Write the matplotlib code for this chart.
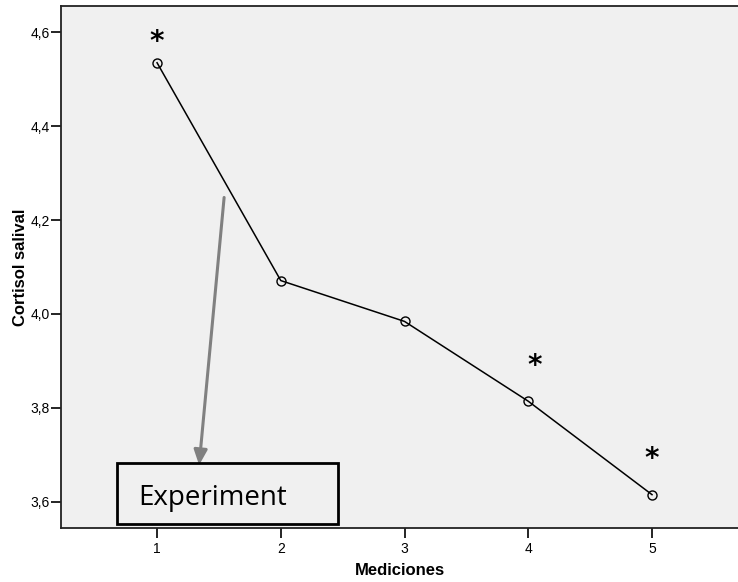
import matplotlib.pyplot as plt
from matplotlib.patches import Rectangle
from matplotlib.ticker import FuncFormatter

# data
mediciones = [1, 2, 3, 4, 5]
cortisol = [4.535, 4.071, 3.984, 3.814, 3.615]

# significance marks (x, y)
star_x = [1, 4.05, 5]
star_y = [4.58, 3.889, 3.691]

y_ticks = [3.6, 3.8, 4.0, 4.2, 4.4, 4.6]

plt.rcParams["font.family"] = ["Liberation Sans", "DejaVu Sans"]

fig = plt.figure(figsize=(7.38, 5.82), dpi=100)
ax = fig.add_axes([0.0827, 0.0928, 0.9173, 0.897])
ax.set_facecolor("#f0f0f0")

ax.plot(mediciones, cortisol, color="black", linewidth=1.1,
        marker="o", markersize=6.5, markerfacecolor="none",
        markeredgecolor="black", markeredgewidth=1)

for sx, sy in zip(star_x, star_y):
    ax.text(sx, sy, "*", ha="center", va="center", fontsize=20,
            fontweight="bold", fontfamily="DejaVu Sans")

ax.set_xlim(0.224, 5.695)
ax.set_ylim(3.544, 4.656)
ax.set_xticks(mediciones)
ax.set_yticks(y_ticks)
ax.yaxis.set_major_formatter(FuncFormatter(lambda v, p: f"{v:.1f}".replace(".", ",")))
ax.tick_params(direction="out", length=7, width=1.2, labelsize=10, colors="black")
ax.tick_params(axis="y", pad=1)
ax.tick_params(axis="x", pad=3)

for side in ["left", "bottom", "top"]:
    ax.spines[side].set_linewidth(1.3)
    ax.spines[side].set_color("#222222")
ax.spines["right"].set_visible(False)

ax.set_xlabel("Mediciones", fontsize=12, fontweight="bold", labelpad=5)
ax.set_ylabel("Cortisol salival", fontsize=12, fontweight="bold", labelpad=2)

# annotation box and arrow
ax.annotate("", xy=(1.340, 3.678), xytext=(1.542, 4.248),
            arrowprops=dict(arrowstyle="-|>,head_length=0.9,head_width=0.4",
                            color="#808080", lw=2.2, shrinkA=0, shrinkB=0))
ax.add_patch(Rectangle((0.677, 3.552), 2.463 - 0.677, 3.682 - 3.552,
                       facecolor="none", edgecolor="black", linewidth=2, zorder=4))
ax.text(0.846, 3.593, "Experiment", fontsize=20, fontfamily="Open Sans",
        va="baseline", ha="left")

fig.savefig("out.png", dpi=100)
